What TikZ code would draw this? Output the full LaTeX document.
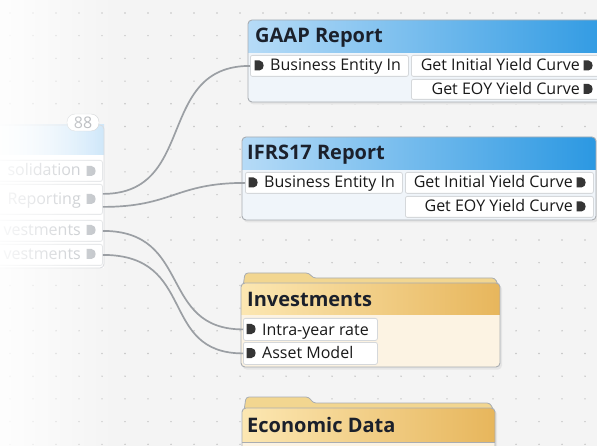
\documentclass[tikz,border=0pt]{standalone}
\usepackage{fontspec}
\setmainfont{Open Sans}
\usetikzlibrary{fadings}
\definecolor{bgcol}{HTML}{F4F4F4}
\definecolor{dotcol}{HTML}{C2C2C2}
\definecolor{wirecol}{HTML}{9B9FA4}
\definecolor{framecol}{HTML}{A9ADB2}
\definecolor{cellline}{HTML}{D5D8DB}
\definecolor{bluelight}{HTML}{B6DBF7}
\definecolor{bluedark}{HTML}{2B98E2}
\definecolor{bluebody}{HTML}{F0F5FA}
\definecolor{goldlight}{HTML}{FCE7B2}
\definecolor{golddark}{HTML}{E7B65C}
\definecolor{goldbody}{HTML}{FCF3E3}
\definecolor{goldtab}{HTML}{F2D690}
\definecolor{titlecol}{HTML}{1B202B}
\definecolor{portcol}{HTML}{353535}
\definecolor{fadetext}{HTML}{B9BDC2}

\tikzset{
  cell/.style={draw=cellline,fill=white,rounded corners=2pt,line width=0.8pt,inner sep=0pt,anchor=north west},
  rowtext/.style={font=\fontsize{16}{18}\selectfont,inner sep=0pt,text=black!90},
  title/.style={font=\bfseries\fontsize{20}{22}\selectfont,text=titlecol,anchor=base west,inner sep=0pt},
  wire/.style={draw=wirecol,line width=1.7pt},
  frame/.style={draw=framecol,line width=0.9pt,rounded corners=4pt},
  shadow/.style={fill=black!10,rounded corners=4pt},
  folder/.style={fill=goldtab,draw=framecol,line width=0.8pt,rounded corners=3pt},
}
% small D-shaped port marker at (x,y)
\newcommand{\portmark}[3][portcol]{%
  \fill[#1] ({#2-4.5},{#3-5}) -- ({#2+0.5},{#3-5}) .. controls ({#2+6},{#3-5}) and ({#2+6},{#3+5}) .. ({#2+0.5},{#3+5}) -- ({#2-4.5},{#3+5}) -- cycle;}

\begin{document}
\begin{tikzpicture}[x=1pt,y=-1pt]
  \useasboundingbox (0,0) rectangle (597,446);
  \clip (0,0) rectangle (597,446);
  \fill[bgcol] (0,0) rectangle (597,446);
  \foreach \i in {0,...,25}
    \foreach \j in {0,...,19}
      \fill[dotcol] ({10+23*\i},{13+22.7*\j}) circle[radius=0.8pt];

  % left block (faded)
  \fill[white] (-20,125) rectangle (104,268);
  \shade[left color=white,right color=bluelight!75] (-20,125) rectangle (104,155);
  \draw[draw=framecol!50,line width=0.8pt,rounded corners=4pt] (-20,125) -- (104,125) -- (104,268) -- (-20,268);
  \node[cell,draw=cellline!70,minimum width=112pt,minimum height=21pt] (lcons) at (-10,160) {};
  \node[cell,draw=cellline!70,minimum width=112pt,minimum height=30pt] (lrep) at (-10,184) {};
  \node[cell,draw=cellline!70,minimum width=112pt,minimum height=21pt] (linva) at (-10,220) {};
  \node[cell,draw=cellline!70,minimum width=112pt,minimum height=21pt] (linvb) at (-10,244) {};
  \node[rowtext,text=fadetext,anchor=base east] (lconst) at (81,176) {solidation};
  \node[rowtext,text=fadetext,anchor=base east] (lrept) at (81,204.5) {Reporting};
  \node[rowtext,text=fadetext,anchor=base east] (linvat) at (81,235.5) {vestments};
  \node[rowtext,text=fadetext,anchor=base east] (linvbt) at (81,259.5) {vestments};
  \portmark[fadetext]{91}{171}
  \portmark[fadetext]{91}{199}
  \portmark[fadetext]{91}{230}
  \portmark[fadetext]{91}{254}
  \node[draw=framecol!60,fill=white,rounded corners=8pt,minimum width=32pt,minimum height=17pt,inner sep=0pt,
        font=\fontsize{16}{18}\selectfont,text=fadetext!90!black] (badge) at (83,122.5) {88};
  \fill[white,path fading=east,fill opacity=0.9] (0,0) rectangle (120,446);

  % GAAP Report
  \fill[shadow] (249.5,22) rectangle (622,104.5);
  \begin{scope}
    \clip[rounded corners=4pt] (248,20) rectangle (620,102);
    \fill[bluebody] (248,20) rectangle (620,102);
    \shade[left color=bluelight,right color=bluedark] (248,20) rectangle (620,53);
  \end{scope}
  \draw[frame] (248,20) rectangle (620,102);
  \node[title] (gaaptitle) at (255,43) {GAAP Report};
  \node[cell,minimum width=158pt,minimum height=21pt] (gaapin) at (250,55) {};
  \node[cell,minimum width=209pt,minimum height=21pt] (gaapinit) at (411,55) {};
  \node[cell,minimum width=209pt,minimum height=20pt] (gaapeoy) at (411,79) {};
  \portmark{259}{65.5}
  \node[rowtext,anchor=base west] (gaapint) at (270,71) {Business Entity In};
  \node[rowtext,anchor=base east] (gaapinitt) at (580,71) {Get Initial Yield Curve};
  \portmark{588}{65.5}
  \node[rowtext,anchor=base east] (gaapeoyt) at (580,94.5) {Get EOY Yield Curve};
  \portmark{588}{89}

  % IFRS17 Report
  \fill[shadow] (243.5,139) rectangle (598,222.5);
  \begin{scope}
    \clip[rounded corners=4pt] (242,137) rectangle (596,220);
    \fill[bluebody] (242,137) rectangle (596,220);
    \shade[left color=bluelight,right color=bluedark] (242,137) rectangle (596,170);
  \end{scope}
  \draw[frame] (242,137) rectangle (596,220);
  \node[title] (ifrstitle) at (247,160) {IFRS17 Report};
  \node[cell,minimum width=157pt,minimum height=21pt] (ifrsin) at (245,172) {};
  \node[cell,minimum width=188pt,minimum height=21pt] (ifrsinit) at (405,172) {};
  \node[cell,minimum width=188pt,minimum height=21pt] (ifrseoy) at (405,196) {};
  \portmark{253}{182.5}
  \node[rowtext,anchor=base west] (ifrsint) at (264,188) {Business Entity In};
  \node[rowtext,anchor=base east] (ifrsinitt) at (573,188) {Get Initial Yield Curve};
  \portmark{581}{182.5}
  \node[rowtext,anchor=base east] (ifrseoyt) at (573,212) {Get EOY Yield Curve};
  \portmark{581}{206.5}

  % Investments
  \filldraw[folder] (243,287) -- (245,273) -- (309,273) -- (313,278) -- (495,278) -- (499,287) -- cycle;
  \fill[shadow] (242.5,285) rectangle (502,369.5);
  \begin{scope}
    \clip[rounded corners=4pt] (241,283) rectangle (500,367);
    \fill[goldbody] (241,283) rectangle (500,367);
    \shade[left color=goldlight,right color=golddark] (241,283) rectangle (500,315);
  \end{scope}
  \draw[frame] (241,283) rectangle (500,367);
  \node[title] (invtitle) at (247,306) {Investments};
  \node[cell,minimum width=134pt,minimum height=22pt] (invrate) at (243,318) {};
  \node[cell,minimum width=134pt,minimum height=22pt] (invasset) at (243,342) {};
  \portmark{251}{329}
  \node[rowtext,anchor=base west] (invratet) at (262,335) {Intra-year rate};
  \portmark{251}{353}
  \node[rowtext,anchor=base west] (invassett) at (262,359) {Asset Model};

  % Economic Data
  \filldraw[folder] (244,411) -- (246,397) -- (309,397) -- (313,403) -- (490,403) -- (494,411) -- cycle;
  \fill[shadow] (243.5,410) rectangle (497,470);
  \begin{scope}
    \clip[rounded corners=4pt] (242,408) rectangle (495,468);
    \fill[goldbody] (242,408) rectangle (495,468);
    \shade[left color=goldlight,right color=golddark] (242,408) rectangle (495,441);
  \end{scope}
  \draw[frame] (242,408) rectangle (495,468);
  \draw[framecol,line width=0.8pt] (242,442) -- (495,442);
  \node[title] (ecotitle) at (247,432) {Economic Data};

  % wires
  \draw[wire] ([yshift=5.5pt]lrep.east) .. controls +(95,0) and +(-95,0) .. (gaapin.west);
  \draw[wire] ([yshift=-7.5pt]lrep.east) .. controls +(70,0) and +(-70,0) .. (ifrsin.west);
  \draw[wire] (linva.east) .. controls +(90,0) and +(-85,0) .. (invrate.west);
  \draw[wire] (linvb.east) .. controls +(95,0) and +(-85,0) .. (invasset.west);
\end{tikzpicture}
\end{document}
